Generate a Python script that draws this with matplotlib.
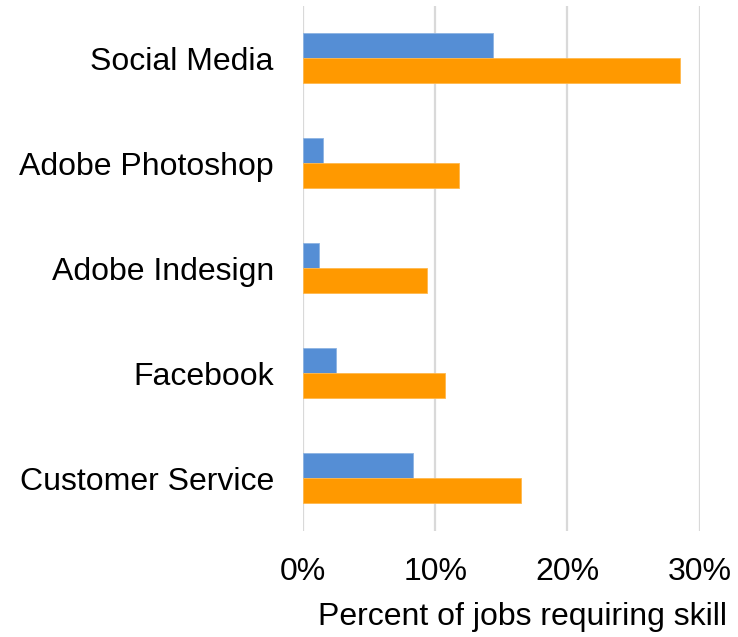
import matplotlib.pyplot as plt
from matplotlib.ticker import PercentFormatter
import numpy as np

plt.rcParams['font.family'] = ['Liberation Sans', 'DejaVu Sans']

# categories top to bottom
skills = ['Social Media', 'Adobe Photoshop', 'Adobe Indesign', 'Facebook', 'Customer Service']
blue_vals = [0.144, 0.015, 0.012, 0.025, 0.083]
orange_vals = [0.285, 0.118, 0.094, 0.107, 0.165]

fig = plt.figure(figsize=(7.38, 6.37), dpi=100)
ax = fig.add_axes([0.4106, 0.167, 0.5375, 0.824])

y = np.arange(len(skills))
h = 0.238
ax.barh(y - h / 2, blue_vals, height=h, color='#558ED5', edgecolor='#8DB3E2', linewidth=0.6, zorder=3)
ax.barh(y + h / 2, orange_vals, height=h, color='#FF9900', edgecolor='#FFB84D', linewidth=0.6, zorder=3)

ax.set_xlim(0, 0.3)
ax.set_ylim(len(skills) - 0.5, -0.5)
ax.set_xticks([0, 0.1, 0.2, 0.3])
ax.xaxis.set_major_formatter(PercentFormatter(1.0, decimals=0))
ax.set_yticks(y)
ax.set_yticklabels(skills)
ax.tick_params(axis='both', length=0, labelsize=23, colors='black')
ax.tick_params(axis='x', pad=19)
ax.tick_params(axis='y', pad=21)
ax.grid(axis='x', color='#D9D9D9', linewidth=1.6, zorder=0)
for s in ax.spines.values():
    s.set_visible(False)

ax.set_xlabel('Percent of jobs requiring skill', fontsize=23)
ax.xaxis.set_label_coords(0.553, -0.136)

fig.savefig('out.png', dpi=100)
